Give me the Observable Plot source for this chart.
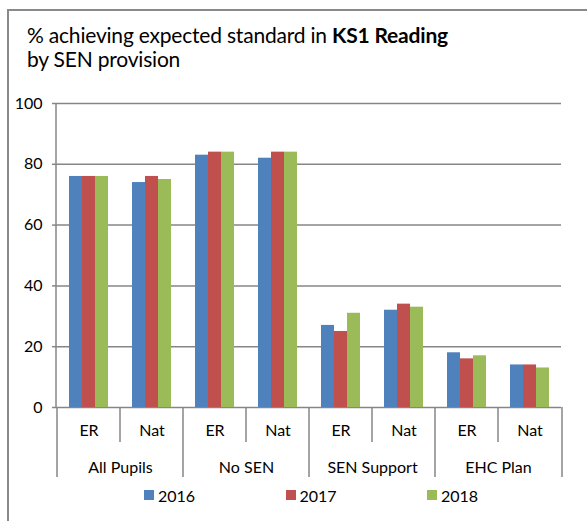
<!DOCTYPE html>
<html><head><meta charset="utf-8">
<script src="https://cdn.jsdelivr.net/npm/d3@7"></script>
<script src="https://cdn.jsdelivr.net/npm/@observablehq/plot@0.6"></script>
<style>
body{margin:0;font-family:Lato, sans-serif;background:#fff}
#wrap{position:absolute;left:7px;top:9px;width:580px;height:512px;border-left:2px solid #8a8a8a;border-top:2px solid #8a8a8a;}
#title{height:69px;box-sizing:border-box;padding:12px 0 0 18px;font-size:21px;line-height:24px;color:#000;letter-spacing:-0.2px}
#chart svg{display:block;overflow:visible}
#legend{display:flex;padding-left:135px;height:30px;align-items:center;font-size:16px;color:#000}
.item{width:141.5px;display:flex;align-items:center}
.sw{width:10px;height:10px;margin-right:4px}
</style></head>
<body><div id="wrap"><div id="title">% achieving expected standard in <b>KS1 Reading</b><br>by SEN provision</div><div id="chart"></div><div id="legend"></div></div>
<script>
const groups = ["All Pupils", "No SEN", "SEN Support", "EHC Plan"];
const subs = ["ER", "Nat"];
const years = ["2016", "2017", "2018"];
const v2016 = [76, 74, 83, 82, 27, 32, 18, 14];
const v2017 = [76, 76, 84, 84, 25, 34, 16, 14];
const v2018 = [76, 75, 84, 84, 31, 33, 17, 13];
const colors = ["#4F81BD", "#C0504D", "#9BBB59"];
const yTicks = [0, 20, 40, 60, 80, 100];

const cats = groups.flatMap(g => subs.map(s => g + "|" + s));
const series = [v2016, v2017, v2018];
const rows = cats.flatMap((c, i) => years.map((y, j) => ({cat: c, year: y, value: series[j][i]})));
const grid = "#868686";

const chart = Plot.plot({
  width: 578, height: 400,
  marginLeft: 47, marginRight: 25, marginTop: 23, marginBottom: 73,
  style: {fontFamily: "Lato, sans-serif", fontSize: "16px", color: "#000", background: "transparent", overflow: "visible"},
  fx: {domain: cats, padding: 0, label: null},
  x: {domain: years, paddingInner: 0, paddingOuter: 0.76, axis: null},
  y: {domain: [0, 100], label: null},
  color: {domain: years, range: colors},
  marks: [
    Plot.gridY(yTicks, {stroke: grid, strokeOpacity: 1, strokeWidth: 1.5}),
    Plot.barY(rows, {fx: "cat", x: "year", y: "value", fill: "year"}),
    Plot.axisY(yTicks, {tickSize: 5, tickPadding: 10, stroke: grid, strokeWidth: 1.5, label: null, fontSize: 16, fill: "#000"}),
    Plot.axisFx({anchor: "bottom", tickSize: 0, tickPadding: 17, tickFormat: d => d.split("|")[1], label: null, fontSize: 16, fill: "#000"}),
    Plot.text(groups, {fx: g => g + "|" + subs[0], text: d => d, frameAnchor: "bottom-right", textAnchor: "middle", dy: 60, lineAnchor: "middle", fontSize: 16, fill: "#000"})
  ]
});

// category separators and value axis line, positioned from Plot's own scales
const fxs = chart.scale("fx"), ys = chart.scale("y");
const svg = d3.select(chart);
const y0 = ys.apply(0), yTop = ys.apply(100);
const g = svg.append("g").attr("stroke", grid).attr("stroke-width", 1.5);
g.append("line").attr("x1", fxs.range[0]).attr("x2", fxs.range[0]).attr("y1", yTop).attr("y2", y0);
cats.forEach((c, i) => {
  const x = fxs.apply(c);
  const outer = i % subs.length === 0;
  g.append("line").attr("x1", x).attr("x2", x).attr("y1", y0).attr("y2", y0 + (outer ? 70 : 35));
});
const xEnd = fxs.range[1];
g.append("line").attr("x1", xEnd).attr("x2", xEnd).attr("y1", y0).attr("y2", y0 + 70);

document.getElementById("chart").appendChild(chart);

const legend = d3.select("#legend");
years.forEach((y, j) => {
  const it = legend.append("div").attr("class", "item");
  it.append("div").attr("class", "sw").style("background", colors[j]);
  it.append("span").text(y);
});
</script>
</body></html>
